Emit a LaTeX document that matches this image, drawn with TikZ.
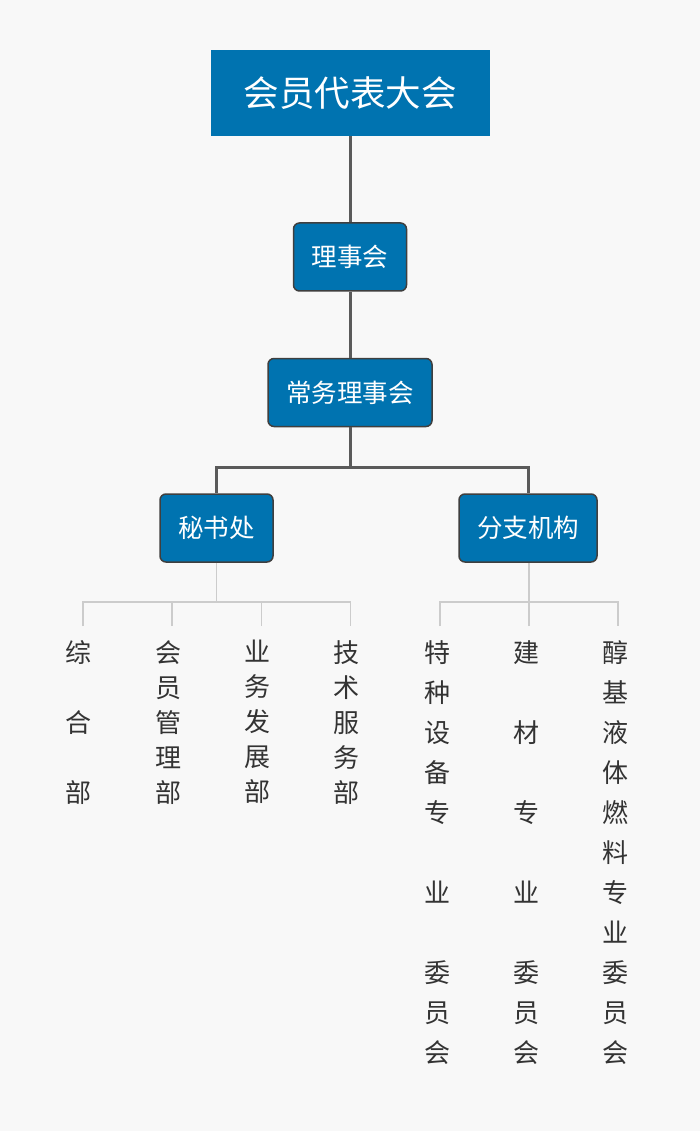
\documentclass[tikz,border=0pt]{standalone}
\usepackage{fontspec}
\setmainfont{Noto Sans CJK SC}
\definecolor{bg}{HTML}{F8F8F8}
\definecolor{boxblue}{HTML}{0073B0}
\definecolor{darkline}{HTML}{5A5A5A}
\definecolor{boxedge}{HTML}{3F3F3F}
\definecolor{lightline}{HTML}{CCCCCC}
\definecolor{txt}{HTML}{333333}
\begin{document}
\begin{tikzpicture}[x=1pt,y=-1pt,
  topbox/.style={fill=boxblue, draw=none, minimum width=279pt, minimum height=86pt,
    text=white, font=\fontsize{35.5}{40}\selectfont, inner sep=0},
  rbox/.style={fill=boxblue, draw=boxedge, line width=1.5pt, rounded corners=6pt,
    text=white, font=\fontsize{25.5}{30}\selectfont, inner sep=0, minimum height=68pt},
  mainline/.style={draw=darkline, line width=3pt},
  subline/.style={draw=lightline, line width=1.5pt},
  colL/.style={text=txt, align=center, inner sep=0, anchor=north, font=\fontsize{26}{35}\selectfont},
  colR/.style={text=txt, align=center, inner sep=0, anchor=north, font=\fontsize{26}{40}\selectfont}
]
\fill[bg] (0,0) rectangle (700,1131);
\useasboundingbox (0,0) rectangle (700,1131);

% boxes
\node[topbox] (hy) at (350,93) {会员代表大会};
\node[rbox, minimum width=113pt] (ls) at (350,257) {理事会};
\node[rbox, minimum width=164pt] (cw) at (350,392.5) {常务理事会};
\node[rbox, minimum width=113pt] (ms) at (216.5,528) {秘书处};
\node[rbox, minimum width=138pt] (fz) at (528,528) {分支机构};

% main connectors
\draw[mainline] (hy.south) -- (ls.north);
\draw[mainline] (ls.south) -- (cw.north);
\coordinate (bus) at (350,467);
\draw[mainline] (cw.south) -- (bus);
\draw[mainline] (bus) -| (ms.north);
\draw[mainline] (bus) -| (fz.north);

% text columns
\node[colL] (c1) at (78.5,640) {综\\[35pt]合\\[35pt]部};
\node[colL] (c2) at (168,640) {会\\员\\管\\理\\部};
\node[colL] (c3) at (257,640) {业\\务\\发\\展\\部};
\node[colL] (c4) at (346,640) {技\\术\\服\\务\\部};
\node[colR] (c5) at (437,640) {特\\种\\设\\备\\专\\[40pt]业\\[40pt]委\\员\\会};
\node[colR] (c6) at (526,640) {建\\[40pt]材\\[40pt]专\\[40pt]业\\[40pt]委\\员\\会};
\node[colR] (c7) at (615,640) {醇\\基\\液\\体\\燃\\料\\专\\业\\委\\员\\会};

% light connectors
\coordinate (msbus) at (216.5,602);
\coordinate (fzbus) at (529,602);
\coordinate (t1) at (83,626);
\coordinate (t2) at (172,626);
\coordinate (t3) at (261.5,626);
\coordinate (t4) at (350.5,626);
\coordinate (t5) at (440,626);
\coordinate (t6) at (529,626);
\coordinate (t7) at (618,626);
\draw[subline] (ms.south) -- (msbus);
\draw[subline] (t1) -- (t1 |- msbus) -- (t4 |- msbus) -- (t4);
\draw[subline] (t2) -- (t2 |- msbus);
\draw[subline] (t3) -- (t3 |- msbus);
\draw[subline] (fz.south -| fzbus) -- (fzbus);
\draw[subline] (t5) -- (t5 |- fzbus) -- (t7 |- fzbus) -- (t7);
\draw[subline] (t6) -- (t6 |- fzbus);
\end{tikzpicture}
\end{document}
